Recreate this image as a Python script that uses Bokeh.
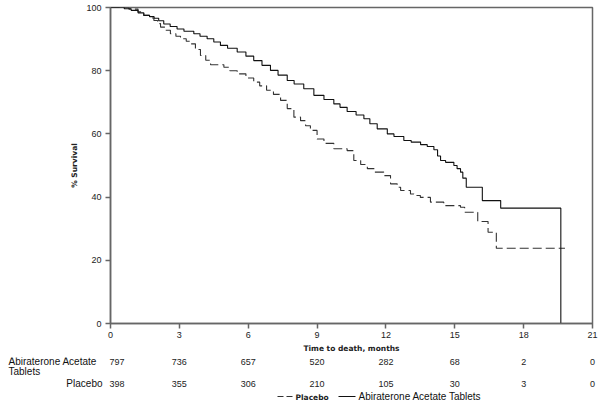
from bokeh.plotting import figure
from bokeh.layouts import column
from bokeh.models import Range1d, FixedTicker
from bokeh.core.properties import value
from bokeh.embed import file_html
from bokeh.resources import INLINE

# ---- data ----
abi_t = [0, 0.6, 0.9, 1.2, 1.45, 1.7, 1.9, 2.1, 2.32, 2.6, 2.9, 3.2, 3.63, 3.9, 4.21, 4.5,
         4.79, 5.1, 5.52, 5.9, 6.24, 6.6, 6.97, 7.3, 7.7, 8.0, 8.42, 8.86, 9.3, 9.73, 10.0,
         10.31, 10.7, 11.04, 11.3, 11.62, 12.06, 12.35, 12.78, 13.1, 13.51, 13.8, 14.09,
         14.25, 14.38, 14.6, 14.96, 15.1, 15.25, 15.35, 15.5, 16.2, 17.0, 19.62]
abi_s = [100, 99.6, 99.1, 98.3, 97.5, 97.1, 96.6, 95.8, 94.8, 94.0, 93.2, 92.5, 91.7, 90.9,
         90.1, 89.1, 88.0, 87.1, 85.9, 84.6, 83.2, 81.7, 80.1, 78.6, 76.9, 75.8, 74.3, 72.2,
         70.9, 69.5, 68.4, 67.1, 66.0, 64.8, 63.2, 61.6, 60.0, 59.2, 57.9, 57.4, 56.6, 56.0,
         55.0, 53.0, 51.6, 51.0, 50.0, 49.0, 47.9, 46.0, 43.1, 38.9, 36.5, 0]

pla_t = [0, 0.8, 1.2, 1.45, 1.7, 1.89, 2.05, 2.18, 2.4, 2.61, 2.85, 3.05, 3.3, 3.49, 3.7,
         3.92, 4.15, 4.36, 4.94, 5.2, 5.52, 5.9, 6.24, 6.5, 6.8, 7.1, 7.41, 7.7, 7.99, 8.28,
         8.5, 8.71, 9.0, 9.3, 9.73, 10.31, 10.6, 10.9, 11.19, 11.5, 11.91, 12.2, 12.49,
         12.64, 13.07, 13.22, 13.5, 13.94, 14.52, 15.25, 15.43, 16.0, 16.45, 16.81, 19.8]
pla_s = [100, 99.5, 98.6, 97.5, 96.7, 95.9, 94.9, 93.8, 92.8, 91.7, 90.9, 90.1, 89.3, 88.5,
         86.7, 84.8, 83.3, 81.9, 81.1, 80.0, 79.0, 77.7, 76.4, 75.2, 73.8, 72.5, 70.6, 68.0,
         65.3, 64.2, 62.6, 61.1, 58.4, 57.0, 55.3, 54.7, 51.6, 50.3, 49.0, 47.9, 46.8, 44.2,
         43.1, 42.1, 41.0, 40.5, 39.9, 38.4, 37.3, 36.8, 35.2, 32.3, 28.9, 23.8, 23.8]

risk_times = [0, 3, 6, 9, 12, 15, 18, 21]
abi_risk = [797, 736, 657, 520, 282, 68, 2, 0]
pla_risk = [398, 355, 306, 210, 105, 30, 3, 0]

x_ticks = [0, 3, 6, 9, 12, 15, 18, 21]
y_ticks = [0, 20, 40, 60, 80, 100]

FONT = "Liberation Sans"
BOLD_FONT = "DejaVu Sans"
AXIS_COL = "#666666"

W = 606
H_TOP, H_BOT = 357, 56
FL, FR, FT, FB = 110, 592, 7, 323   # frame edges in page pixels

# ================= main survival plot =================
p = figure(width=W, height=H_TOP, output_backend="svg", toolbar_location=None,
           x_range=Range1d(0, 21), y_range=Range1d(0, 100),
           min_border_left=FL, min_border_right=W - FR, min_border_top=FT,
           min_border_bottom=H_TOP - FB)
p.frame_align = False
p.grid.visible = False
p.outline_line_color = AXIS_COL
p.outline_line_width = 1.5
p.background_fill_color = "white"
p.border_fill_color = "white"

for ax in (p.xaxis[0], p.yaxis[0]):
    ax.axis_line_color = AXIS_COL
    ax.axis_line_width = 1.5
    ax.major_tick_line_color = AXIS_COL
    ax.major_tick_line_width = 1.5
    ax.major_tick_out = 5
    ax.major_tick_in = 0
    ax.minor_tick_line_color = None
    ax.major_label_text_font = FONT
    ax.major_label_text_font_size = "9px"
    ax.major_label_text_color = "#222222"
    ax.axis_label_text_font = BOLD_FONT
    ax.axis_label_text_font_style = "bold"
    ax.axis_label_text_font_size = "7.5px"
    ax.axis_label_text_color = "#222222"

p.xaxis.ticker = FixedTicker(ticks=x_ticks)
p.yaxis.ticker = FixedTicker(ticks=y_ticks)
p.xaxis.major_label_standoff = 3
p.yaxis.major_label_standoff = 4
p.xaxis.axis_label = "Time to death, months"
p.yaxis.axis_label = "% Survival"
p.xaxis.axis_label_standoff = 3
p.yaxis.axis_label_standoff = 4

p.step(pla_t, pla_s, mode="after", line_color="#333333", line_width=1.1, line_dash="9 4")
p.step(abi_t, abi_s, mode="after", line_color="#111111", line_width=1.1)

# ================= number-at-risk table + legend =================
ppu = (FR - FL) / 21.0  # pixels per month (shared with the plot above)
q = figure(width=W, height=H_BOT, output_backend="svg", toolbar_location=None,
           x_range=Range1d(-FL / ppu, 21 + (W - FR) / ppu),
           y_range=Range1d(H_TOP + H_BOT, H_TOP),   # page-pixel rows, top-down
           x_axis_type=None, y_axis_type=None, title=None,
           min_border_left=0, min_border_right=0, min_border_top=0,
           min_border_bottom=0)
q.frame_align = False
q.grid.visible = False
q.outline_line_color = None
q.background_fill_color = "white"
q.border_fill_color = "white"

def px(sx):
    return (sx - FL) / ppu

ROW1, ROW1B, ROW2, LEG = 361, 371, 383, 396

q.text(x=[px(8)], y=[ROW1], text=["Abiraterone Acetate"], text_font=value(FONT),
       text_font_size="10px", text_align="left", text_baseline="middle",
       text_color="#111111")
q.text(x=[px(8)], y=[ROW1B], text=["Tablets"], text_font=value(FONT),
       text_font_size="10px", text_align="left", text_baseline="middle",
       text_color="#111111")
q.text(x=[px(102)], y=[ROW2], text=["Placebo"], text_font=value(FONT),
       text_font_size="10px", text_align="right", text_baseline="middle",
       text_color="#111111")

for row_vals, ycen in ((abi_risk, ROW1), (pla_risk, ROW2)):
    q.text(x=risk_times[:1], y=[ycen], text=[str(v) for v in row_vals[:1]],
           text_font=value(FONT), text_font_size="9px", text_align="left",
           x_offset=-1, text_baseline="middle", text_color="#222222")
    q.text(x=risk_times[1:], y=[ycen] * (len(risk_times) - 1),
           text=[str(v) for v in row_vals[1:]],
           text_font=value(FONT), text_font_size="9px", text_align="center",
           text_baseline="middle", text_color="#222222")

# legend
q.line(x=[px(277), px(293)], y=[LEG, LEG], line_color="#333333", line_width=1.2,
       line_dash="6 3")
q.text(x=[px(295)], y=[LEG + 0.5], text=["Placebo"], text_font=value(BOLD_FONT),
       text_font_style="bold", text_font_size="7.5px", text_align="left",
       text_baseline="middle", text_color="#222222")
q.line(x=[px(338), px(355)], y=[LEG, LEG], line_color="#111111", line_width=1.2)
q.text(x=[px(358)], y=[LEG], text=["Abiraterone Acetate Tablets"], text_font=value(FONT),
       text_font_size="10px", text_align="left", text_baseline="middle",
       text_color="#111111")

layout = column(p, q, spacing=0)
open("out.html", "w").write(file_html(layout, INLINE))
